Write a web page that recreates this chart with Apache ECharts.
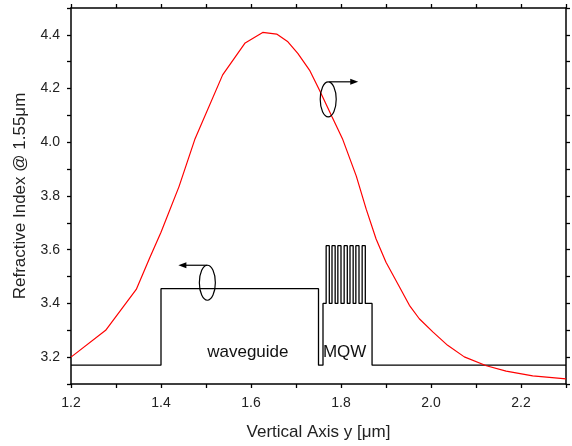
<!DOCTYPE html>
<html>
<head>
<meta charset="utf-8">
<script src="https://cdn.jsdelivr.net/npm/echarts@6/dist/echarts.min.js"></script>
<style>html,body{margin:0;padding:0;background:#fff}#c{width:572px;height:446px}</style>
</head>
<body>
<div id="c"></div>
<script>
// Red curve (right axis in original): refractive index profile fit / mode
const curveX = [1.20, 1.277, 1.345, 1.375, 1.40, 1.44, 1.475, 1.537, 1.587, 1.626, 1.657, 1.682, 1.704, 1.730, 1.752, 1.780, 1.804, 1.834, 1.856, 1.878, 1.900, 1.930, 1.952, 1.974, 2.004, 2.037, 2.074, 2.123, 2.167, 2.226, 2.300];
const curveY = [3.200, 3.300, 3.452, 3.570, 3.665, 3.835, 4.010, 4.251, 4.370, 4.409, 4.403, 4.374, 4.331, 4.269, 4.195, 4.095, 4.010, 3.874, 3.751, 3.640, 3.553, 3.461, 3.393, 3.343, 3.294, 3.244, 3.201, 3.168, 3.148, 3.130, 3.119];
// Black step profile: waveguide + MQW
const stepX = [1.2, 1.4, 1.4, 1.75, 1.75, 1.76, 1.76, 1.767, 1.767, 1.774, 1.774, 1.780, 1.780, 1.787, 1.787, 1.793, 1.793, 1.800, 1.800, 1.807, 1.807, 1.814, 1.814, 1.820, 1.820, 1.827, 1.827, 1.833, 1.833, 1.840, 1.840, 1.847, 1.847, 1.854, 1.854, 1.869, 1.869, 2.3];
const stepY = [3.17, 3.17, 3.455, 3.455, 3.17, 3.17, 3.40, 3.40, 3.615, 3.615, 3.40, 3.40, 3.615, 3.615, 3.40, 3.40, 3.615, 3.615, 3.40, 3.40, 3.615, 3.615, 3.40, 3.40, 3.615, 3.615, 3.40, 3.40, 3.615, 3.615, 3.40, 3.40, 3.615, 3.615, 3.40, 3.40, 3.17, 3.17];
const xLabelTitle = 'Vertical Axis y [μm]';
const yLabelTitle = 'Refractive Index @ 1.55μm';
const textLabels = ['waveguide', 'MQW'];
const textAnchorX = [1.593, 1.808];
const textAnchorY = [3.217, 3.217];
// ellipse markers (centre in data coords) and arrow direction
const markX = [1.503, 1.7716];
const markY = [3.477, 4.16];
const markDir = [-1, 1];

const xMin = 1.2, xMax = 2.3, yMin = 3.1, yMax = 4.5;

const chart = echarts.init(document.getElementById('c'));
const FONT = '"Liberation Sans", Arial, sans-serif';
const evenFmt = v => (Math.round(v * 10) % 2 === 0 ? v.toFixed(1) : '');
const axisCommon = {
  type: 'value',
  interval: 0.1,
  axisLine: { show: true, onZero: false, lineStyle: { color: '#000', width: 1.5 } },
  axisTick: { show: true, inside: false, length: 4, lineStyle: { color: '#000', width: 1.3 } },
  splitLine: { show: false }
};
chart.setOption({
  animation: false,
  grid: { left: 71, right: 6, top: 8, bottom: 61, containLabel: false },
  xAxis: [
    Object.assign({}, axisCommon, {
      position: 'bottom', min: xMin, max: xMax,
      name: xLabelTitle, nameLocation: 'middle', nameGap: 40,
      nameTextStyle: { fontFamily: FONT, fontSize: 17, color: '#222' },
      axisLabel: { formatter: evenFmt, fontFamily: FONT, fontSize: 14, color: '#222', margin: 12 }
    }),
    Object.assign({}, axisCommon, {
      position: 'top', min: xMin, max: xMax, axisLabel: { show: false }
    })
  ],
  yAxis: [
    Object.assign({}, axisCommon, {
      position: 'left', min: yMin, max: yMax,
      name: yLabelTitle, nameLocation: 'middle', nameGap: 42,
      nameTextStyle: { fontFamily: FONT, fontSize: 17, color: '#222' },
      axisLabel: { formatter: evenFmt, fontFamily: FONT, fontSize: 14, color: '#222', margin: 11 }
    }),
    Object.assign({}, axisCommon, {
      position: 'right', min: yMin, max: yMax, axisLabel: { show: false }
    })
  ],
  series: [
    {
      type: 'line', xAxisIndex: 0, yAxisIndex: 0,
      data: stepX.map((x, i) => [x, stepY[i]]),
      symbol: 'none', lineStyle: { color: '#000', width: 1.3 }, z: 3
    },
    {
      type: 'line', xAxisIndex: 0, yAxisIndex: 0,
      data: curveX.map((x, i) => [x, curveY[i]]),
      symbol: 'none', lineStyle: { color: '#ff0000', width: 1.2 }, z: 4
    }
  ]
});

function drawGraphics() {
  const els = [];
  textLabels.forEach((t, i) => {
    const p = chart.convertToPixel({ gridIndex: 0 }, [textAnchorX[i], textAnchorY[i]]);
    els.push({ type: 'text', x: p[0], y: p[1], style: { text: t, fontFamily: FONT, fontSize: 17, fill: '#111', align: 'center', verticalAlign: 'middle' }, z: 10 });
  });
  markX.forEach((mx, i) => {
    const p = chart.convertToPixel({ gridIndex: 0 }, [mx, markY[i]]);
    const rx = 8, ry = 17.5;
    els.push({ type: 'ellipse', shape: { cx: p[0], cy: p[1], rx: rx, ry: ry }, style: { fill: 'none', stroke: '#000', lineWidth: 1.2 }, z: 10 });
    const x0 = p[0] + (markDir[i] > 0 ? 1 : 0), y0 = p[1] - ry;
    const x1 = x0 + markDir[i] * 29;
    els.push({ type: 'line', shape: { x1: x0, y1: y0, x2: x1 - markDir[i] * 6, y2: y0 }, style: { stroke: '#000', lineWidth: 1.2 }, z: 10 });
    els.push({ type: 'polygon', shape: { points: [[x1, y0], [x1 - markDir[i] * 8, y0 - 3], [x1 - markDir[i] * 8, y0 + 3]] }, style: { fill: '#000' }, z: 10 });
  });
  chart.setOption({ graphic: els });
}
drawGraphics();
</script>
</body>
</html>
